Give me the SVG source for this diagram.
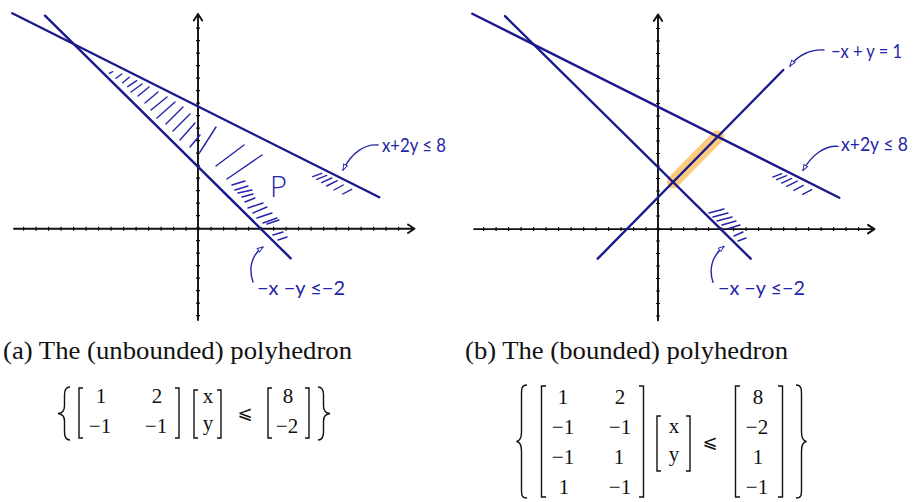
<svg xmlns="http://www.w3.org/2000/svg" width="916" height="502" viewBox="0 0 916 502">
<style>
.ax{fill:none;stroke:#111;stroke-width:1.9;stroke-linecap:round;stroke-linejoin:round}
.tk{fill:none;stroke:#111;stroke-width:4;stroke-dasharray:1.2 11.3}
.ln{fill:none;stroke:#1a1a8c;stroke-width:2.4;stroke-linecap:round}
.ht{fill:none;stroke:#2424a8;stroke-width:1.4;stroke-linecap:round}
.ar{fill:none;stroke:#2424a8;stroke-width:1.4;stroke-linecap:round}
.hw{font-family:Lato,"Open Sans",sans-serif;font-weight:400;fill:#2424a8}
.cap{font-family:"Liberation Serif",serif;font-size:25px;fill:#111}
.m{font-family:"Liberation Serif",serif;font-size:21px;fill:#111;text-anchor:middle}
.le{font-family:"DejaVu Sans","DejaVu Serif",sans-serif;font-size:18px;fill:#111;text-anchor:middle}
.br{fill:none;stroke:#111;stroke-width:1.4}
</style>
<defs>
<marker id="head" viewBox="0 0 10 8" refX="9" refY="4" markerWidth="7" markerHeight="6" markerUnits="userSpaceOnUse" orient="auto">
<path d="M1,1 L9,4 L1,7 z" fill="#fff" stroke="#2424a8" stroke-width="1.3"/>
</marker>
</defs>

<g id="plot-a">
<g id="axes-a">
<path class="tk" d="M23,228.7 H410"/>
<path class="tk" d="M198,316.2 V22"/>
<path class="ax" d="M14,228.7 H414 M408,224.5 L414.5,228.7 L408,233"/>
<path class="ax" d="M198,320 V14 M193.8,20.5 L198,14 L202.2,20.5"/>
</g>
<g id="lines-a">
<path class="ln" d="M12.3,13.3 L379.3,197.3"/>
<path class="ln" d="M45,15.7 L290.7,258.3"/>
</g>
<g id="hatch-a">
<path class="ht" d="M312.7,176.7 L321.7,173.3 M316.7,179.3 L326.7,175.3 M321.7,182.7 L331.7,178 M326.7,186 L337.3,180.7 M334,190 L343.3,185 M342.7,194 L351.7,189.3"/>
<path class="ht" d="M109.3,73.3 L112.7,71.7 M116,78.3 L121.7,74 M122.7,82.7 L129.3,77.3 M127.7,86.7 L136.7,80.7 M131,92 L142,84 M138,96 L149,87 M145,103 L158,92 M151,110 L167,97 M157,118 L175,102 M166,124 L183,107 M173,131 L190,114 M180,140 L195,123 M190,147 L200,135 M200,152 L216,127 M216,166 L244,145 M227,179 L262,155 M232,185 L245,181 M235,190 L248,186 M238,193 L252,190 M242,197 L253,194 M245,202 L255,198 M248,208 L263,203 M253,213 L267,207 M257,218 L272,213 M263,223 L277,218 M267,224 L279,220 M273,235 L283,232 M278,240 L287,237"/>
</g>
<g id="labels-a">
<path class="ar" d="M378,145 C365,144 352,152 343,170" marker-end="url(#head)"/>
<text class="hw" x="382" y="152" font-size="20" textLength="64" lengthAdjust="spacingAndGlyphs">x+2y ≤ 8</text>
<path class="ar" d="M253,282 C249,270 250,256 263,247" marker-end="url(#head)"/>
<text class="hw" x="257" y="295" font-size="20" textLength="88" lengthAdjust="spacingAndGlyphs">−x −y ≤−2</text>
<text x="270" y="197" font-family="'Open Sans',Lato,sans-serif" font-weight="300" font-size="29" fill="#2424a8">P</text>
</g>
</g>

<g id="plot-b">
<path d="M673.3,181.8 L717.6,136.7" fill="none" stroke="#fcc570" stroke-width="13" stroke-linecap="round" opacity="0.9"/>
<g transform="translate(460,0.4)">
<g id="axes-b">
<path class="tk" d="M23,228.7 H410"/>
<path class="tk" d="M198,316.2 V22"/>
<path class="ax" d="M14,228.7 H414 M408,224.5 L414.5,228.7 L408,233"/>
<path class="ax" d="M198,320 V14 M193.8,20.5 L198,14 L202.2,20.5"/>
</g>
<g id="lines-b">
<path class="ln" d="M12.3,13.3 L379.3,197.3"/>
<path class="ln" d="M45,15.7 L290.7,258.3"/>
</g>
<g id="hatch-b">
<path class="ht" d="M312.7,176.7 L321.7,173.3 M316.7,179.3 L326.7,175.3 M321.7,182.7 L331.7,178 M326.7,186 L337.3,180.7 M334,190 L343.3,185 M342.7,194 L351.7,189.3"/>
<path class="ht" d="M249,212.6 L264,208.6 M253,216.6 L268,212.6 M257,220.6 L272,216.6 M262,224.6 L276,220.6 M267,228.6 L280,224.6 M274,235.6 L283,231.6 M278,240.6 L286,237.6"/>
</g>
<g id="labels-b">
<path class="ar" d="M378,146 C365,145 352,154 343,170" marker-end="url(#head)"/>
<text class="hw" x="381" y="151" font-size="20" textLength="67" lengthAdjust="spacingAndGlyphs">x+2y ≤ 8</text>
<path class="ar" d="M253,282 C249,270 251,256 264,246" marker-end="url(#head)"/>
<text class="hw" x="258" y="295" font-size="20" textLength="87" lengthAdjust="spacingAndGlyphs">−x −y ≤−2</text>
</g>
</g>
<path class="ar" d="M824,50 C811,49 798,55 790,66" marker-end="url(#head)"/>
<path class="ln" d="M597.7,258.7 L783.3,70"/>
<text class="hw" x="831" y="58" font-size="20" textLength="71" lengthAdjust="spacingAndGlyphs">−x + y = 1</text>
</g>

<g id="caption-a">
<text class="cap" x="3" y="359" textLength="349" lengthAdjust="spacingAndGlyphs">(a) The (unbounded) polyhedron</text>
<path class="br" d="M70,387 C65.5,387 64.5,390 64.5,395 L64.5,406 C64.5,410.5 62.5,413 58,413.5 C62.5,414 64.5,416.5 64.5,421 L64.5,432 C64.5,437 65.5,440 70,440"/>
<path class="br" d="M83,388 H79 V438 H83 M175,388 H179 V438 H175"/>
<text class="m" x="101" y="403">1</text><text class="m" x="157" y="403">2</text>
<text class="m" x="100" y="433">−1</text><text class="m" x="156" y="433">−1</text>
<path class="br" d="M198,390 H194 V438 H198 M217,390 H221 V438 H217"/>
<text class="m" x="208" y="403">x</text><text class="m" x="208" y="430">y</text>
<text class="le" x="245" y="419">⩽</text>
<path class="br" d="M272,388 H268 V438 H272 M305,388 H309 V438 H305"/>
<text class="m" x="288" y="403">8</text><text class="m" x="287" y="433">−2</text>
<path class="br" d="M318,387 C322.5,387 323.5,390 323.5,395 L323.5,406 C323.5,410.5 325.5,413 330,413.5 C325.5,414 323.5,416.5 323.5,421 L323.5,432 C323.5,437 322.5,440 318,440"/>
</g>

<g id="caption-b">
<text class="cap" x="465" y="359" textLength="323" lengthAdjust="spacingAndGlyphs">(b) The (bounded) polyhedron</text>
<path class="br" d="M527,385 C521.5,385 521.5,389 521.5,395 L521.5,432 C521.5,438 519.5,441 516.5,441.5 C519.5,442 521.5,445 521.5,451 L521.5,489 C521.5,495 521.5,498 527,498"/>
<path class="br" d="M546,386 H541.5 V497 H546 M639,386 H643.5 V497 H639"/>
<text class="m" x="563" y="404">1</text><text class="m" x="620" y="404">2</text>
<text class="m" x="563" y="434">−1</text><text class="m" x="620" y="434">−1</text>
<text class="m" x="563" y="464">−1</text><text class="m" x="619" y="464">1</text>
<text class="m" x="564" y="494">1</text><text class="m" x="620" y="494">−1</text>
<path class="br" d="M661,416 H657 V471 H661 M686,416 H690 V471 H686"/>
<text class="m" x="674" y="433">x</text><text class="m" x="674" y="461">y</text>
<text class="le" x="710" y="448">⩽</text>
<path class="br" d="M740,386 H735.5 V497 H740 M778,386 H782.5 V497 H778"/>
<text class="m" x="758" y="404">8</text><text class="m" x="757" y="434">−2</text>
<text class="m" x="758" y="464">1</text><text class="m" x="757" y="494">−1</text>
<path class="br" d="M796,385 C801.5,385 801.5,389 801.5,395 L801.5,432 C801.5,438 803.5,441 806.5,441.5 C803.5,442 801.5,445 801.5,451 L801.5,489 C801.5,495 801.5,498 796,498"/>
</g>
</svg>
